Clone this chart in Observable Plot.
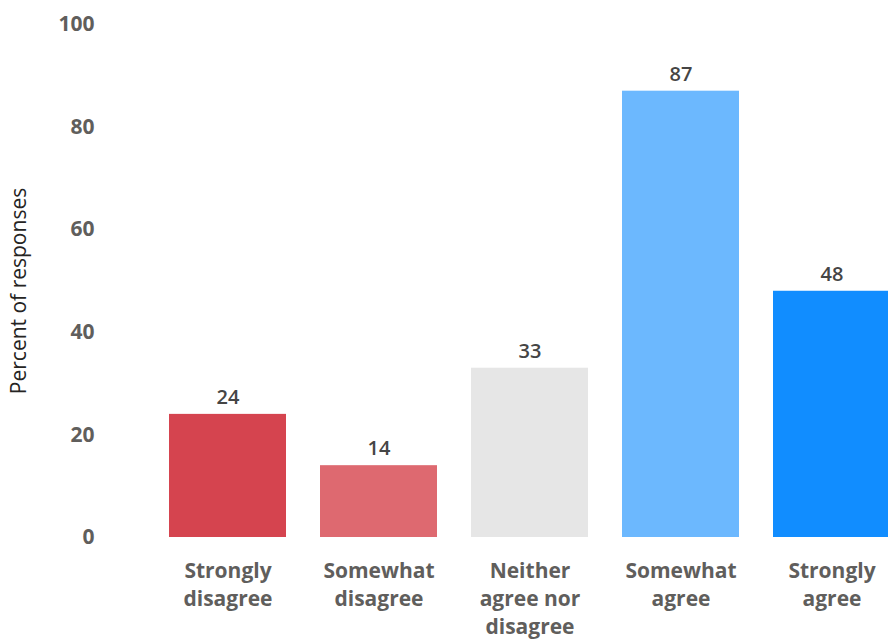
<!DOCTYPE html>
<html>
<head>
<meta charset="utf-8">
<script src="https://cdn.jsdelivr.net/npm/d3@7"></script>
<script src="https://cdn.jsdelivr.net/npm/@observablehq/plot@0.6"></script>
<style>
  html, body { margin: 0; padding: 0; background: #fff; overflow: hidden; }
  #chart svg { overflow: hidden; display: block; }
</style>
</head>
<body>
<div id="chart"></div>
<script>
const categories = ["Strongly disagree", "Somewhat disagree", "Neither agree nor disagree", "Somewhat agree", "Strongly agree"];
const tickLabels = ["Strongly\ndisagree", "Somewhat\ndisagree", "Neither\nagree nor\ndisagree", "Somewhat\nagree", "Strongly\nagree"];
const values = [24, 14, 33, 87, 48];
const barColors = ["#D5444F", "#DE6970", "#E6E6E6", "#6CB8FE", "#118DFF"];
const yTicks = [0, 20, 40, 60, 80, 100];
const yTitle = "Percent of responses";

const data = categories.map((c, i) => ({category: c, value: values[i]}));
const labelOf = new Map(categories.map((c, i) => [c, tickLabels[i]]));

const font = "'Open Sans', 'Noto Sans', sans-serif";

const chart = Plot.plot({
  width: 888,
  height: 643,
  marginTop: 24,
  marginBottom: 106,
  marginLeft: 100,
  marginRight: 0,
  style: {fontFamily: font, background: "#fff", overflow: "hidden"},
  x: {domain: categories, range: [134, 925], padding: 0.226},
  y: {domain: [0, 100]},
  color: {domain: categories, range: barColors},
  marks: [
    Plot.barY(data, {x: "category", y: "value", fill: "category"}),
    Plot.text(data, {x: "category", y: "value", text: d => String(d.value), dy: -17,
      fontSize: 20, fontWeight: 600, fill: "#454545", fontFamily: font}),
    Plot.axisY({ticks: yTicks, tickSize: 0, tickPadding: 6, fontSize: 21, fontWeight: "bold",
      fill: "#605E5C", label: null, fontFamily: font}),
    Plot.axisX({tickSize: 0, tickPadding: 21, fontSize: 21, fontWeight: "bold", lineHeight: 1.33,
      fill: "#605E5C", label: null, fontFamily: font, tickFormat: d => labelOf.get(d)}),
    Plot.text([yTitle], {frameAnchor: "left", rotate: -90, textAnchor: "middle", dx: -81, dy: 10,
      fontSize: 21, fill: "#252423", fontFamily: font, text: d => d})
  ]
});
document.getElementById("chart").append(chart);
</script>
</body>
</html>
